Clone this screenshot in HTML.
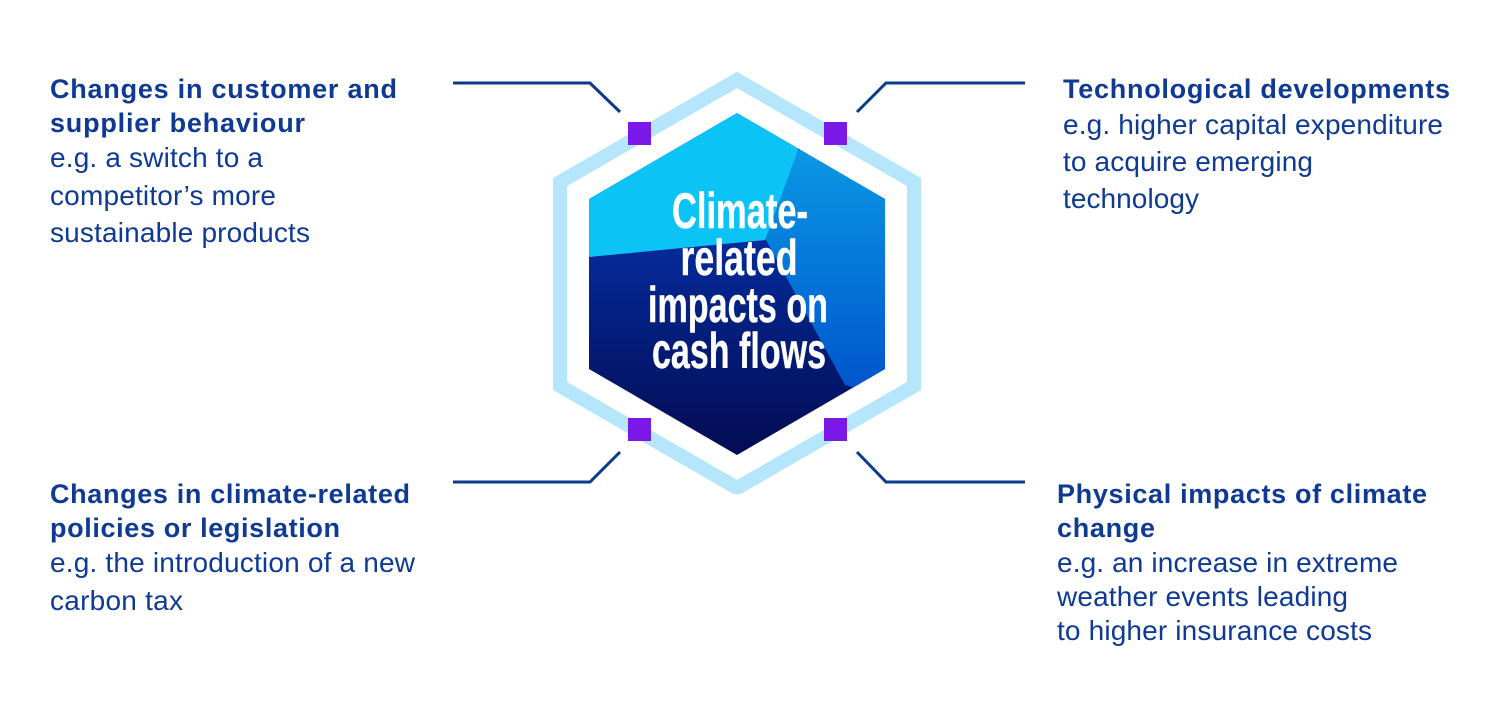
<!DOCTYPE html>
<html><head><meta charset="utf-8"><style>
html,body{margin:0;padding:0;background:#fff;width:1500px;height:725px;overflow:hidden}
svg{display:block}
.h{font-family:"Liberation Sans",sans-serif;font-weight:bold;font-size:27px;fill:#0e3a94}
.b{font-family:"Liberation Sans",sans-serif;font-size:28px;fill:#0e3a94}
.c{font-family:"Liberation Sans Narrow","Liberation Sans",sans-serif;font-weight:bold;font-size:50px;fill:#fff;stroke:#fff;stroke-width:0.4}
</style></head><body>
<svg width="1500" height="725" viewBox="0 0 1500 725">
<defs>
<clipPath id="cl"><rect x="0" y="0" width="1500" height="494"/></clipPath>
<clipPath id="inner"><polygon points="737,113 885,199 885,369 737,455 589,369 589,199"/></clipPath>
<linearGradient id="dk" x1="0" y1="0" x2="0" y2="1"><stop offset="0" stop-color="#0640c8"/><stop offset="1" stop-color="#03094e"/></linearGradient>
<linearGradient id="md" x1="0" y1="0" x2="0" y2="1"><stop offset="0" stop-color="#0a98e4"/><stop offset="1" stop-color="#0052cc"/></linearGradient>
</defs>
<g clip-path="url(#cl)">
<polygon points="737,80 914,182 914,386 737,488 560,386 560,182" fill="none" stroke="#b5e6fb" stroke-width="14"/>
</g>
<g clip-path="url(#inner)">
<rect x="580" y="100" width="320" height="370" fill="url(#dk)"/>
<polygon points="798,150 900,150 900,400 845,385 765,238" fill="url(#md)"/>
<polygon points="580,100 900,100 798,150 765,240 589,257 580,257" fill="#0cc3f5"/>
<polygon points="798,100 900,100 900,150 798,150" fill="url(#md)"/>
</g>
<g fill="none" stroke="#0a3a8c" stroke-width="3">
<polyline points="453,83 590,83 620,112"/>
<polyline points="1025,83 886,83 857,112"/>
<polyline points="453,482 590,482 620,452"/>
<polyline points="1025,482 886,482 857,452"/>
</g>
<g fill="#7a18e8">
<rect x="628" y="122" width="23" height="23"/>
<rect x="824" y="122" width="23" height="23"/>
<rect x="628" y="418" width="23" height="23"/>
<rect x="824" y="418" width="23" height="23"/>
</g>
<g class="c" text-anchor="middle">
<text x="740" y="228" textLength="136" lengthAdjust="spacingAndGlyphs">Climate-</text>
<text x="739" y="275" textLength="117" lengthAdjust="spacingAndGlyphs">related</text>
<text x="738" y="322" textLength="180" lengthAdjust="spacingAndGlyphs">impacts on</text>
<text x="739" y="368" textLength="174" lengthAdjust="spacingAndGlyphs">cash flows</text>
</g>
<g lengthAdjust="spacingAndGlyphs">
<text class="h" x="50" y="98" textLength="347">Changes in customer and</text>
<text class="h" x="50" y="132" textLength="255">supplier behaviour</text>
<text class="b" x="50" y="167" textLength="213">e.g. a switch to a</text>
<text class="b" x="50" y="205" textLength="226">competitor’s more</text>
<text class="b" x="50" y="242" textLength="260">sustainable products</text>

<text class="h" x="1063" y="98" textLength="387">Technological developments</text>
<text class="b" x="1063" y="134" textLength="380">e.g. higher capital expenditure</text>
<text class="b" x="1063" y="171" textLength="250">to acquire emerging</text>
<text class="b" x="1063" y="208" textLength="136">technology</text>

<text class="h" x="50" y="503" textLength="360">Changes in climate-related</text>
<text class="h" x="50" y="537" textLength="290">policies or legislation</text>
<text class="b" x="50" y="572" textLength="365">e.g. the introduction of a new</text>
<text class="b" x="50" y="610" textLength="133">carbon tax</text>

<text class="h" x="1057" y="503" textLength="370">Physical impacts of climate</text>
<text class="h" x="1057" y="537" textLength="98">change</text>
<text class="b" x="1057" y="572" textLength="341">e.g. an increase in extreme</text>
<text class="b" x="1057" y="606" textLength="291">weather events leading</text>
<text class="b" x="1057" y="640" textLength="315">to higher insurance costs</text>
</g>
</svg>
</body></html>
